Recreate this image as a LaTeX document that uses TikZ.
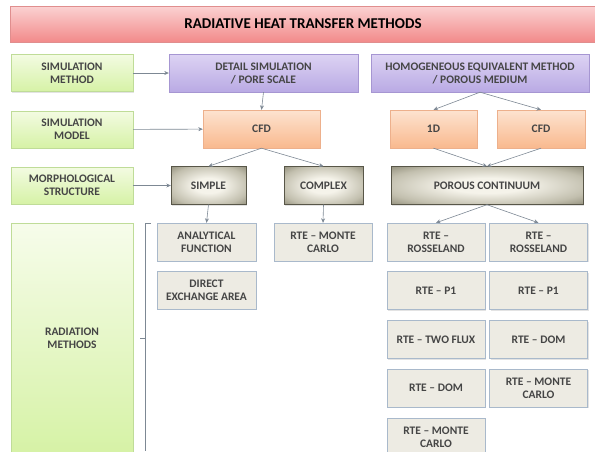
\documentclass[tikz,border=0pt]{standalone}
\usepackage{fontspec}
\setmainfont{Carlito}
\usetikzlibrary{shadows,arrows.meta}

\definecolor{txtgray}{HTML}{454545}
\definecolor{linegray}{HTML}{7D8894}
\definecolor{greenlo}{HTML}{D6F2A6}
\definecolor{greenhi}{HTML}{F3FBE2}
\definecolor{greenedge}{HTML}{BFDC98}
\definecolor{purplelo}{HTML}{B9AAE4}
\definecolor{purplehi}{HTML}{DDD3F3}
\definecolor{purpleedge}{HTML}{A696D2}
\definecolor{orangelo}{HTML}{F9B98E}
\definecolor{orangehi}{HTML}{FDE3D0}
\definecolor{orangeedge}{HTML}{EDB08C}
\definecolor{redlo}{HTML}{F28A8A}
\definecolor{redhi}{HTML}{FBD2D2}
\definecolor{rededge}{HTML}{E08E8E}
\definecolor{steelin}{HTML}{F5F3EA}
\definecolor{steelmid}{HTML}{C2BFAE}
\definecolor{steelout}{HTML}{7E7B67}
\definecolor{paperfill}{HTML}{EDEBE3}
\definecolor{paperedge}{HTML}{A9B9CB}

\pgfdeclareradialshading{steelglow}{\pgfpoint{0bp}{0bp}}{%
  color(0bp)=(steelin); color(10bp)=(steelin); color(27bp)=(steelmid);
  color(40bp)=(steelout); color(72bp)=(steelout)}

\tikzset{
  basebox/.style={rectangle, align=center, inner sep=1pt, text=txtgray,
    font=\fontsize{11.5}{13}\selectfont\bfseries,
    drop shadow={opacity=0.22, shadow xshift=1pt, shadow yshift=-1.2pt}},
  levelbox/.style={basebox, draw=greenedge, top color=greenhi, bottom color=greenlo,
    minimum width=122pt, minimum height=37pt},
  methodbox/.style={basebox, draw=purpleedge, top color=purplehi, bottom color=purplelo,
    minimum height=38pt},
  modelbox/.style={basebox, draw=orangeedge, top color=orangehi, bottom color=orangelo,
    minimum height=38pt},
  structbox/.style={basebox, draw=steelout!70!black, shading=steelglow, minimum height=38pt},
  solverbox/.style={basebox, draw=paperedge, fill=paperfill,
    minimum width=98pt, minimum height=38pt},
  flow/.style={draw=linegray, line width=0.6pt, -{Stealth[length=4.5pt,width=4pt]}}
}

\begin{document}
\begin{tikzpicture}[x=1pt, y=-1pt]
    \useasboundingbox (0,0) rectangle (595,451);

    % Title
    \node[basebox, draw=rededge, top color=redhi, bottom color=redlo,
      minimum width=586pt, minimum height=36pt, text=black,
      font=\fontsize{15}{17}\selectfont\bfseries] (title) at (303,24) {RADIATIVE HEAT TRANSFER METHODS};

    % Left column: levels
    \node[levelbox] (simmethod) at (72,73) {SIMULATION\\METHOD};
    \node[levelbox] (simmodel) at (72,129.5) {SIMULATION\\MODEL};
    \node[levelbox] (morph) at (72,185.5) {MORPHOLOGICAL\\STRUCTURE};
    \node[levelbox, minimum height=230pt, top color=greenhi!70!white, bottom color=greenlo] (radiation) at (72,338) {RADIATION\\METHODS};

    % Simulation methods
    \node[methodbox, minimum width=189pt] (detail) at (263.5,73) {DETAIL SIMULATION\\/ PORE SCALE};
    \node[methodbox, minimum width=218pt] (homog) at (480,73) {HOMOGENEOUS EQUIVALENT METHOD\\/ POROUS MEDIUM};

    % Simulation models
    \node[modelbox, minimum width=117pt] (cfdpore) at (261.5,129) {CFD};
    \node[modelbox, minimum width=87pt] (oned) at (433.5,129) {1D};
    \node[modelbox, minimum width=88pt] (cfdporous) at (541,129) {CFD};

    % Morphological structures
    \node[structbox, minimum width=75pt] (simple) at (208.5,185.5) {SIMPLE};
    \node[structbox, minimum width=79pt] (complex) at (323.5,185.5) {COMPLEX};
    \node[structbox, minimum width=192pt] (porous) at (487,185.5) {POROUS CONTINUUM};

    % Radiation methods, pore scale
    \node[solverbox, minimum width=99pt] (analytic) at (206.5,242) {ANALYTICAL\\FUNCTION};
    \node[solverbox, minimum width=99pt] (direct) at (206.5,290) {DIRECT\\EXCHANGE AREA};
    \node[solverbox] (mcpore) at (323,242) {RTE -- MONTE\\CARLO};

    % Radiation methods, porous medium
    \node[solverbox] (rossa) at (436,242) {RTE --\\ROSSELAND};
    \node[solverbox] (p1a) at (436,290.5) {RTE -- P1};
    \node[solverbox] (twoflux) at (436,339.5) {RTE -- TWO FLUX};
    \node[solverbox] (doma) at (436,388) {RTE -- DOM};
    \node[solverbox] (mca) at (436,437) {RTE -- MONTE\\CARLO};
    \node[solverbox] (rossb) at (538.5,242) {RTE --\\ROSSELAND};
    \node[solverbox] (p1b) at (538.5,290.5) {RTE -- P1};
    \node[solverbox] (domb) at (538.5,339.5) {RTE -- DOM};
    \node[solverbox] (mcb) at (538.5,388) {RTE -- MONTE\\CARLO};

    % Bracket
    \draw[linegray, line width=0.8pt] (151,223) -- (145,223) -- (145,451);
    \draw[linegray, line width=0.8pt] (145,338) -- (140,338);

    % Arrows
    \draw[flow] (simmethod) -- (detail);
    \draw[flow] (simmodel) -- (cfdpore);
    \draw[flow] (morph) -- (simple);
    \draw[flow] (detail.south) -- (cfdpore.north);
    \draw[flow] (homog.south) -- (oned.north);
    \draw[flow] (homog.south) -- (cfdporous.north);
    \draw[flow] (cfdpore.south) -- (simple.north);
    \draw[flow] (cfdpore.south) -- (complex.north);
    \draw[flow] (oned.south) -- (porous.north);
    \draw[flow] (cfdporous.south) -- (porous.north);
    \draw[flow] (simple.south) -- (analytic.north);
    \draw[flow] (complex.south) -- (mcpore.north);
    \draw[flow] (porous.south) -- (rossa.north);
    \draw[flow] (porous.south) -- (rossb.north);
\end{tikzpicture}
\end{document}
